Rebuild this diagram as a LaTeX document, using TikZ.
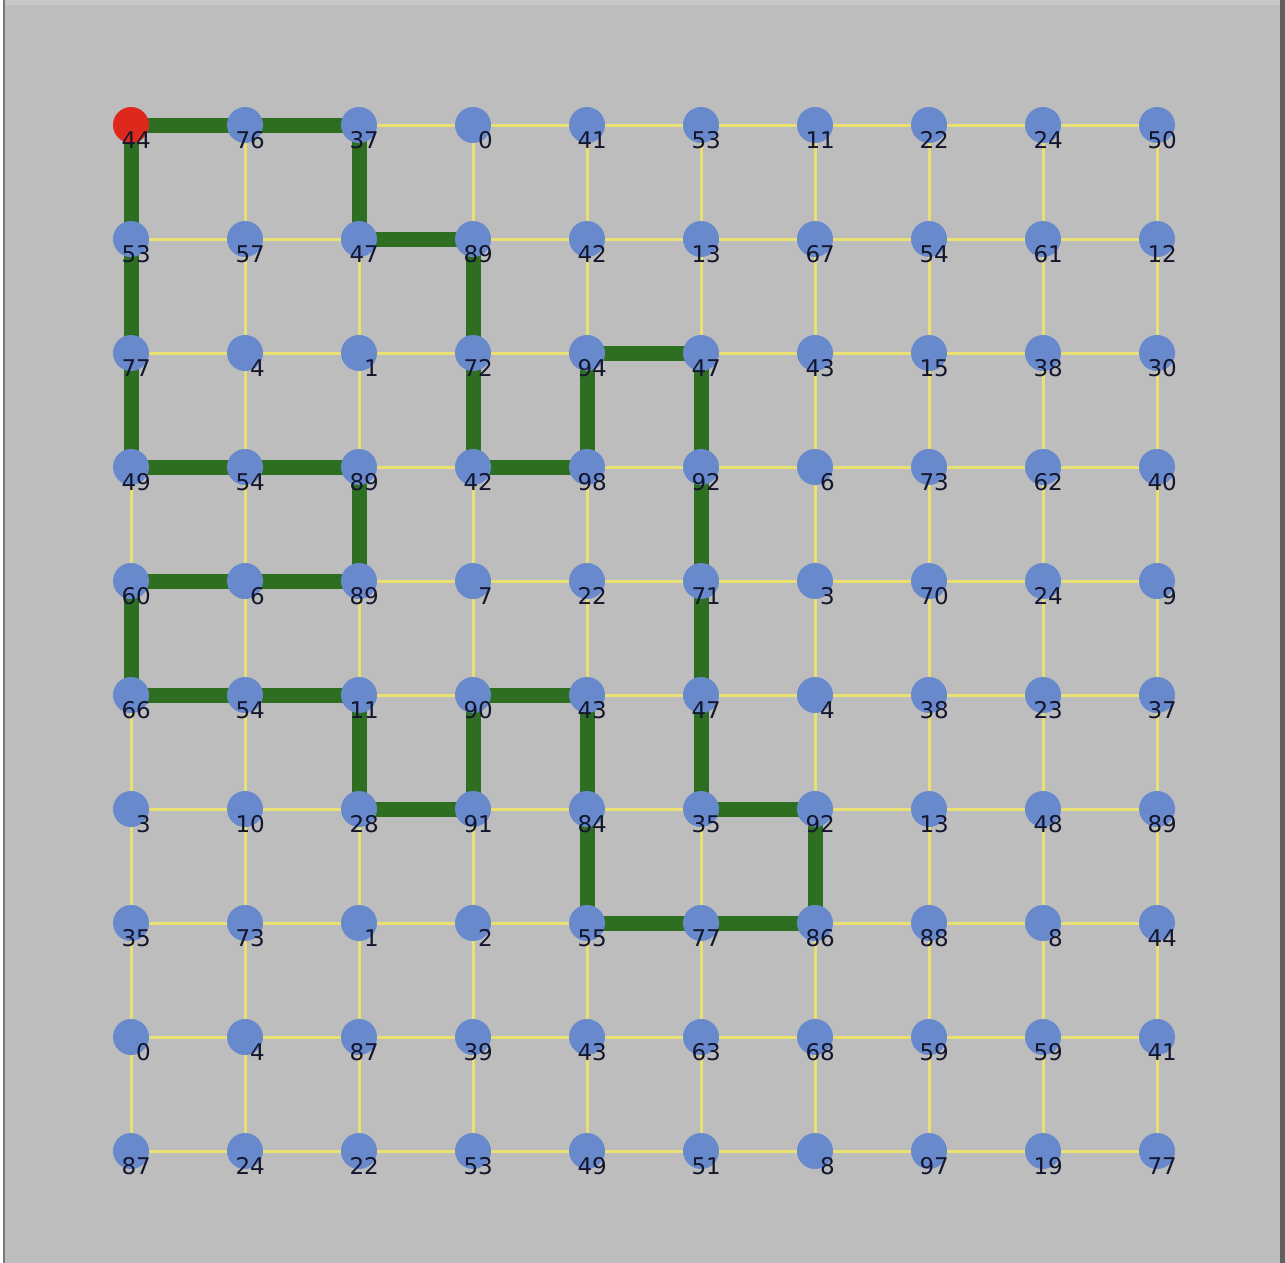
\documentclass[tikz,border=0pt]{standalone}
\usepackage{fontspec}
\setmainfont{DejaVu Sans}
\definecolor{bggray}{RGB}{189,189,189}
\definecolor{topgray}{RGB}{200,200,200}
\definecolor{edgegray}{RGB}{120,120,120}
\definecolor{rightgray}{RGB}{95,95,95}
\definecolor{gridyellow}{RGB}{232,224,112}
\definecolor{pathgreen}{RGB}{46,110,32}
\definecolor{nodeblue}{RGB}{104,138,204}
\definecolor{startred}{RGB}{222,40,28}
\definecolor{labelink}{RGB}{20,22,45}
\pgfdeclarelayer{bg}
\pgfdeclarelayer{edges}
\pgfdeclarelayer{nodelayer}
\pgfsetlayers{bg,edges,nodelayer,main}
\tikzset{
  vert/.style={circle, fill=nodeblue, minimum size=36pt, inner sep=0pt, draw=none},
  v00/.style={fill=startred},
  lab/.style={anchor=base east, inner sep=0pt, text=labelink, font=\fontsize{23}{25}\selectfont},
  gridedge/.style={draw=gridyellow, line width=3pt},
  pathedge/.style={draw=pathgreen, line width=15pt, line join=miter}
}
\begin{document}
\begin{tikzpicture}[x=1pt,y=-1pt]
\useasboundingbox (0,0) rectangle (1285,1263);
\begin{pgfonlayer}{bg}
  \fill[bggray] (0,0) rectangle (1285,1263);
  \fill[topgray] (0,0) rectangle (1285,5);
  \fill[white] (0,0) rectangle (2.5,1263);
  \fill[edgegray] (2.5,0) rectangle (5,1263);
  \fill[rightgray] (1280,0) rectangle (1285,1263);
\end{pgfonlayer}
\foreach \row [count=\j from 0] in {
  {44,76,37,0,41,53,11,22,24,50},
  {53,57,47,89,42,13,67,54,61,12},
  {77,4,1,72,94,47,43,15,38,30},
  {49,54,89,42,98,92,6,73,62,40},
  {60,6,89,7,22,71,3,70,24,9},
  {66,54,11,90,43,47,4,38,23,37},
  {3,10,28,91,84,35,92,13,48,89},
  {35,73,1,2,55,77,86,88,8,44},
  {0,4,87,39,43,63,68,59,59,41},
  {87,24,22,53,49,51,8,97,19,77}} {
  \foreach \lab [count=\i from 0] in \row {
    \begin{pgfonlayer}{nodelayer}
      \node[vert, v\i\j/.try] (n-\i-\j) at ({131+114*\i},{125+114*\j}) {};
    \end{pgfonlayer}
    \node[lab] (l-\i-\j) at ({151+114*\i},{148+114*\j}) {\lab};
  }
}
\begin{pgfonlayer}{edges}
  \foreach \i [evaluate=\i as \ii using int(\i+1)] in {0,...,8} {
    \foreach \j in {0,...,9} {
      \draw[gridedge] (n-\i-\j.center) -- (n-\ii-\j.center);
      \draw[gridedge] (n-\j-\i.center) -- (n-\j-\ii.center);
    }
  }
  \draw[pathedge] (n-0-0.center) -- (n-1-0.center) -- (n-2-0.center) -- (n-2-1.center)
    -- (n-3-1.center) -- (n-3-2.center) -- (n-3-3.center) -- (n-4-3.center)
    -- (n-4-2.center) -- (n-5-2.center) -- (n-5-3.center) -- (n-5-4.center)
    -- (n-5-5.center) -- (n-5-6.center) -- (n-6-6.center) -- (n-6-7.center)
    -- (n-5-7.center) -- (n-4-7.center) -- (n-4-6.center) -- (n-4-5.center)
    -- (n-3-5.center) -- (n-3-6.center) -- (n-2-6.center) -- (n-2-5.center)
    -- (n-1-5.center) -- (n-0-5.center) -- (n-0-4.center) -- (n-1-4.center)
    -- (n-2-4.center) -- (n-2-3.center) -- (n-1-3.center) -- (n-0-3.center)
    -- (n-0-2.center) -- (n-0-1.center) -- cycle;
\end{pgfonlayer}
\end{tikzpicture}
\end{document}
